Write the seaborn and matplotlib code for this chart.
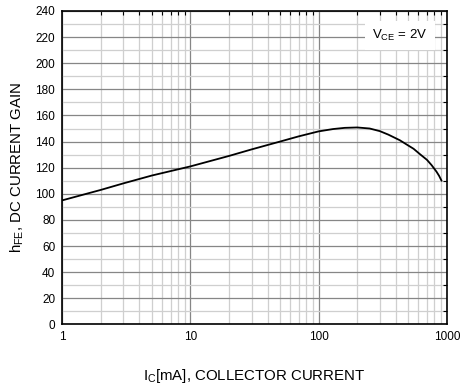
from matplotlib import pyplot as plt
from matplotlib.ticker import LogLocator, MultipleLocator, FixedLocator, NullFormatter
import pandas as pd
import seaborn as sns

# curve
ic_ma = [1, 2, 3, 5, 10, 20, 30, 50, 70, 100, 130, 160, 200, 250, 300, 350,
         430, 500, 550, 620, 700, 760, 830, 870, 910]
hfe = [95, 103, 108, 114, 121, 129, 134, 140, 144, 147.8, 149.6, 150.5, 150.8,
       150, 148, 145.3, 141, 137, 134.5, 130.2, 126, 122, 117, 113.8, 110]

x_ticks = [1, 10, 100, 1000]
x_tick_labels = ["1", "10", "100", "1000"]
y_ticks = list(range(0, 241, 20))

df = pd.DataFrame({"ic": ic_ma, "hfe": hfe})

sns.set_theme(style="white")
plt.rcParams['font.family'] = ['Liberation Sans', 'DejaVu Sans']
plt.rcParams['text.color'] = 'black'
plt.rcParams['axes.labelcolor'] = 'black'

fig, ax = plt.subplots(figsize=(4.64, 3.90), dpi=100)
fig.subplots_adjust(left=0.134, right=0.963, top=0.972, bottom=0.168)

ax.set_xscale("log")
ax.set_xlim(1, 1000)
ax.set_ylim(0, 240)

# grid
ax.yaxis.set_major_locator(FixedLocator(y_ticks))
ax.yaxis.set_minor_locator(MultipleLocator(10))
ax.xaxis.set_major_locator(FixedLocator(x_ticks))
ax.xaxis.set_minor_locator(LogLocator(base=10, subs=range(2, 10)))
ax.xaxis.set_minor_formatter(NullFormatter())
ax.set_xticklabels(x_tick_labels)
ax.grid(which="major", color="#868686", linewidth=0.9)
ax.grid(which="minor", color="#cfcfcf", linewidth=0.9)
ax.set_axisbelow(True)

sns.lineplot(data=df, x="ic", y="hfe", ax=ax, color="black", linewidth=1.3)

for s in ax.spines.values():
    s.set_color("black")
    s.set_linewidth(1.2)

ax.tick_params(which="both", direction="in", top=True, right=True,
               labelsize=8.5, colors="black", pad=5)
ax.tick_params(which="major", length=0)
ax.tick_params(which="minor", length=3, width=0.8)

ax.text(430, 221, r"$\mathregular{V_{CE}}$ = 2V", ha="center", va="center",
        fontsize=9.5, bbox=dict(facecolor="white", edgecolor="none", pad=5))

ax.set_xlabel(r"$\mathregular{I_{C}}$[mA], COLLECTOR CURRENT", fontsize=10.8, labelpad=17)
ax.set_ylabel(r"$\mathregular{h_{FE}}$, DC CURRENT GAIN", fontsize=10.8, labelpad=7)

plt.savefig("out.png", dpi=100)
